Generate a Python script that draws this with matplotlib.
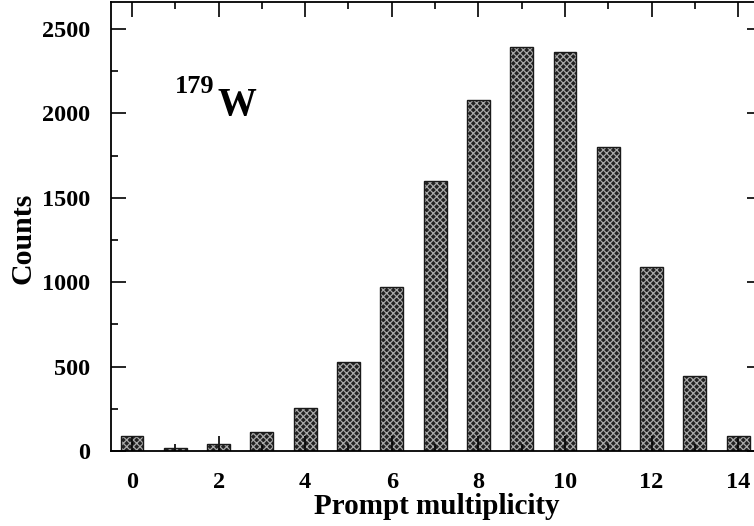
import matplotlib.pyplot as plt
import matplotlib.ticker as mtick

plt.rcParams["font.family"] = "Liberation Serif"
plt.rcParams["font.weight"] = "bold"
plt.rcParams["hatch.linewidth"] = 0.9

# prompt gamma multiplicity distribution
multiplicity = list(range(15))
counts = [90, 15, 40, 110, 255, 530, 970, 1600, 2080, 2395, 2365, 1800, 1090, 445, 90]

fig = plt.figure(figsize=(7.54, 5.26), dpi=100)
# frame runs slightly past the right edge of the canvas
ax = fig.add_axes([0.1472, 0.1426, 0.8634, 0.8536])

# dark checkered fill, light hatch over dark face
ax.bar(multiplicity, counts, width=0.53, color="#222222", edgecolor="#a8a8a8",
       hatch="xxxxx", linewidth=0, zorder=1)
ax.bar(multiplicity, counts, width=0.53, fill=False, edgecolor="#1a1a1a",
       linewidth=1.0, zorder=2)

ax.set_xlim(-0.485, 14.55)
ax.set_ylim(0, 2660)

ax.xaxis.set_major_locator(mtick.MultipleLocator(2))
ax.xaxis.set_minor_locator(mtick.MultipleLocator(1))
ax.yaxis.set_major_locator(mtick.MultipleLocator(500))
ax.yaxis.set_minor_locator(mtick.MultipleLocator(250))

ax.tick_params(which="both", direction="in", top=True, right=True, width=1.2,
               labelsize=17.5, zorder=5)
ax.tick_params(which="major", length=11)
ax.tick_params(which="minor", length=5)
ax.tick_params(axis="x", which="major", pad=15)
ax.tick_params(axis="y", which="major", pad=15)
for lbl in ax.get_xticklabels() + ax.get_yticklabels():
    lbl.set_fontweight("bold")
for sp in ax.spines.values():
    sp.set_linewidth(1.3)
    sp.set_zorder(5)

ax.set_xlabel("Prompt multiplicity", fontsize=21, fontweight="bold", labelpad=0)
ax.set_ylabel("Counts", fontsize=21.5, fontweight="bold")
ax.yaxis.set_label_coords(-0.114, 0.474)

# nucleus label
ax.text(0.098, 0.797, "179", transform=ax.transAxes, fontsize=19, fontweight="bold",
        ha="left", va="baseline")
ax.text(0.163, 0.748, "W", transform=ax.transAxes, fontsize=28, fontweight="bold",
        ha="left", va="baseline")

fig.savefig("out.png", dpi=100)
